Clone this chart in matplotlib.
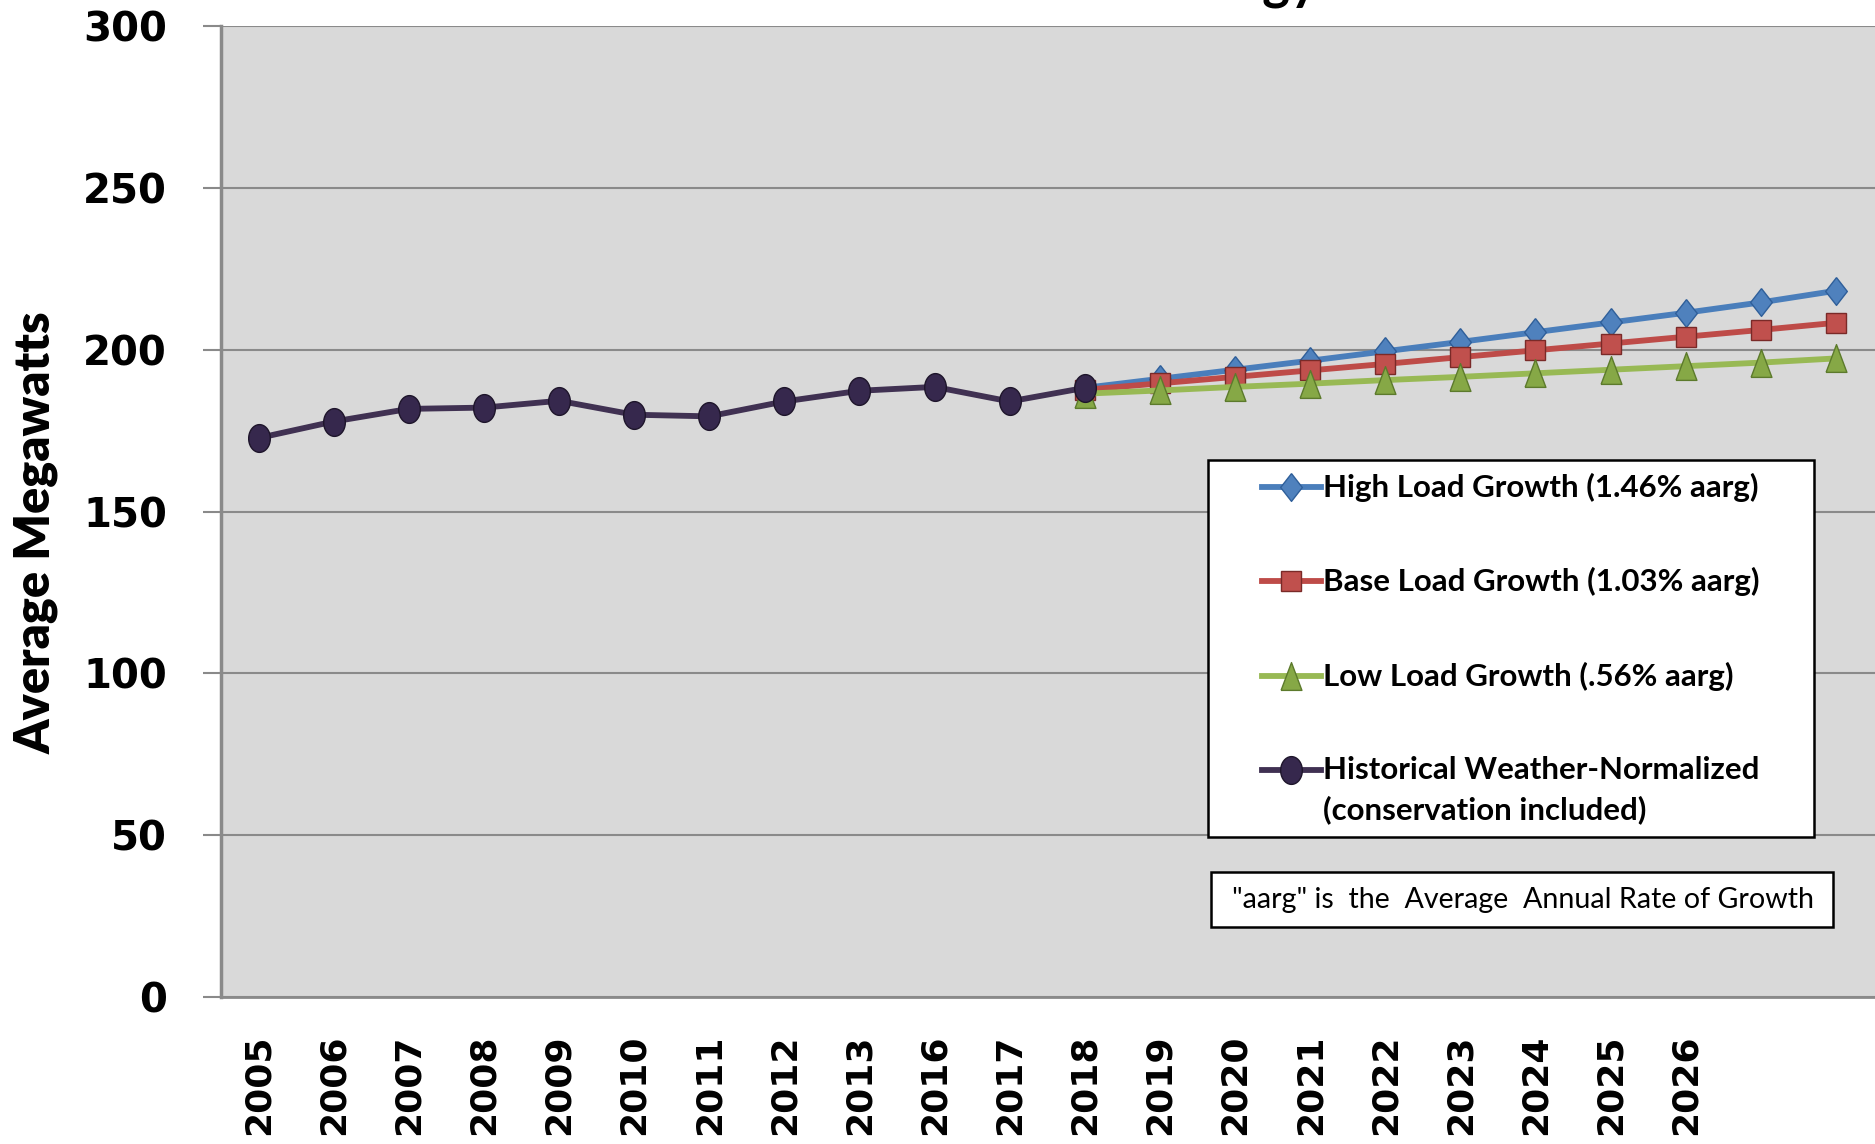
import matplotlib
matplotlib.use("Agg")
import numpy as np
import matplotlib.pyplot as plt
from matplotlib.lines import Line2D
from matplotlib.patches import Rectangle

W, H = 1875, 1144

# categories (last two positions carry no label)
years = ['2005', '2006', '2007', '2008', '2009', '2010', '2011', '2012', '2013',
         '2016', '2017', '2018', '2019', '2020', '2021', '2022', '2023', '2024',
         '2025', '2026', '', '']

# historical weather-normalized, 2005 .. 2018
historical = [172.7, 177.8, 181.7, 182.1, 184.2, 179.9, 179.4, 184.0, 187.3,
              188.5, 184.0, 188.2]

# forecasts start at 2018 (index 11) and run to the end of the axis
high_growth = [188.2, 191.0, 193.8, 196.6, 199.5, 202.4, 205.4, 208.4, 211.4, 214.6, 218.2]
base_growth = [187.6, 189.6, 191.6, 193.6, 195.6, 197.7, 199.8, 201.9, 204.0, 206.1, 208.3]
low_growth = [186.4, 187.4, 188.5, 189.5, 190.6, 191.6, 192.7, 193.8, 194.9, 196.0, 197.3]

labels = ['High Load Growth (1.46% aarg)',
          'Base Load Growth (1.03% aarg)',
          'Low Load Growth (.56% aarg)',
          'Historical Weather-Normalized\n(conservation included)']
note = '"aarg" is  the  Average  Annual Rate of Growth'

# marker shapes
diamond = [(0, 1), (0.78, 0), (0, -1), (-0.78, 0), (0, 1)]
triangle = [(-0.75, -1), (0.75, -1), (0, 1), (-0.75, -1)]
t = np.linspace(0, 2 * np.pi, 40)
ellipse = list(zip(0.78 * np.cos(t), np.sin(t)))

styles = [
    dict(color='#4a7ebb', marker=diamond, markersize=20, markerfacecolor='#4f81bd', markeredgecolor='#2f5f9a'),
    dict(color='#be4b48', marker='s', markersize=15, markerfacecolor='#c0504d', markeredgecolor='#7a2a28'),
    dict(color='#98b954', marker=triangle, markersize=20, markerfacecolor='#86a846', markeredgecolor='#5c7a2c'),
    dict(color='#403152', marker=ellipse, markersize=20, markerfacecolor='#36284d', markeredgecolor='#1e152b'),
]

fig = plt.figure(figsize=(W / 100, H / 100), dpi=100)
ax = fig.add_axes([221 / W, 1 - 997 / H, 1 - 221 / W, (997 - 26) / H])
ax.set_facecolor('#d9d9d9')

x_hist = list(range(len(historical)))
x_fc = list(range(11, 11 + len(high_growth)))

for vals, st in zip([high_growth, base_growth, low_growth], styles[:3]):
    ax.plot(x_fc, vals, linewidth=4.2, **st)
ax.plot(x_hist, historical, linewidth=4.2, **styles[3])

ax.set_ylim(0, 300)
ax.set_xlim(-0.5, 21.52)
ax.set_yticks(range(0, 301, 50))
ax.yaxis.grid(True, color='#8a8a8a', linewidth=1.5)
ax.set_axisbelow(True)
ax.set_xticks(range(len(years)))
ax.set_xticklabels(years, rotation=90, fontsize=26, fontweight='bold', family='DejaVu Sans')
ax.tick_params(axis='x', length=0, pad=27)
ax.tick_params(axis='y', length=13, width=1.5, color='#8a8a8a', direction='out', pad=26,
               labelsize=29)
for lbl in ax.get_yticklabels():
    lbl.set_fontweight('bold')
for s in ['top', 'right']:
    ax.spines[s].set_visible(False)
ax.spines['left'].set_color('#8a8a8a')
ax.spines['left'].set_linewidth(2.5)
ax.spines['bottom'].set_color('#8a8a8a')
ax.spines['bottom'].set_linewidth(2)

fig.text(36 / W, 1 - 533 / H, 'Average Megawatts', rotation=90, ha='center', va='center',
         fontsize=35, fontweight='heavy', family=['Lato', 'DejaVu Sans'])

# title, cut off at the top edge: only the descenders show
fig.text(1318 / W, 1 + 1 / H, 'Load Forecast of Annual Energy', ha='right', va='baseline',
         fontsize=38, fontweight='bold', family=['Lato', 'DejaVu Sans'])

# legend drawn on an overlay in pixel coordinates
ov = fig.add_axes([0, 0, 1, 1])
ov.set_xlim(0, W)
ov.set_ylim(H, 0)
ov.axis('off')
ov.add_patch(Rectangle((1208, 460), 606, 377, facecolor='white', edgecolor='black', linewidth=1.8))
rows = [487, 581, 676, 770]
for lab, st, yy in zip(labels, styles, rows):
    ov.add_line(Line2D([1262, 1321], [yy, yy], linewidth=4.2, color=st['color']))
    ov.add_line(Line2D([1291], [yy], linestyle='none',
                       **{k: v for k, v in st.items() if k != 'color'}))
    for i, part in enumerate(lab.split('\n')):
        ov.text(1323, yy + i * 40, part, ha='left', va='center',
                fontsize=22.5, fontweight='bold', family=['Lato', 'DejaVu Sans'])
ov.add_patch(Rectangle((1211, 872), 622, 55, facecolor='white', edgecolor='black', linewidth=1.8))
ov.text(1232, 900, note, ha='left', va='center', fontsize=20.6, family=['Lato', 'DejaVu Sans'])

fig.savefig('out.png', dpi=100)
